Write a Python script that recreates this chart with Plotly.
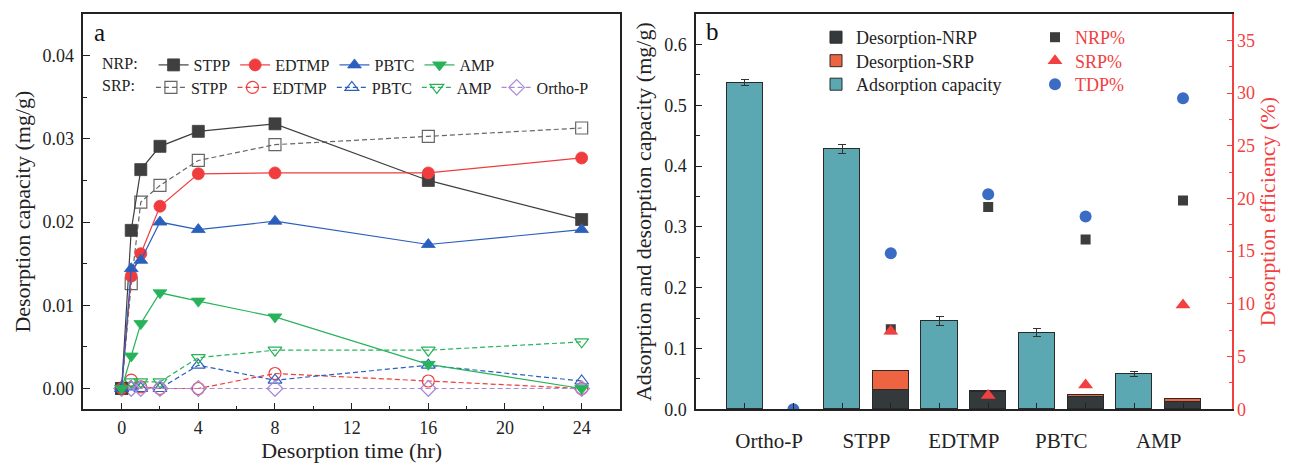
import plotly.graph_objects as go

FONT = "Liberation Serif, Times New Roman, serif"
W, H = 1289, 463

# ---------------- Panel a data ----------------
time_hr = [0, 0.5, 1, 2, 4, 8, 16, 24]
nrp_stpp = [0, 0.0190, 0.0263, 0.0291, 0.0309, 0.0318, 0.0250, 0.0203]
nrp_edtmp = [0, 0.0135, 0.0162, 0.0219, 0.0258, 0.0259, 0.0259, 0.0277]
nrp_pbtc = [0, 0.0144, 0.0154, 0.0200, 0.0191, 0.0201, 0.0173, 0.0191]
nrp_amp = [0, 0.0039, 0.0078, 0.0115, 0.0105, 0.0086, 0.0029, 0.0]
srp_stpp = [0, 0.0126, 0.0224, 0.0244, 0.0274, 0.0293, 0.0303, 0.0313]
srp_edtmp = [0, 0.0010, 0.0002, 0.0, 0.0, 0.0018, 0.0009, 0.0]
srp_pbtc = [0, 0.0002, 0.0, 0.0, 0.0028, 0.0010, 0.0028, 0.0009]
srp_amp = [0, 0.0008, 0.0008, 0.0008, 0.0037, 0.0046, 0.0046, 0.0056]
srp_orthop = [0, 0, 0, 0, 0, 0, 0, 0]
time_ticks = [0, 4, 8, 12, 16, 20, 24]
time_minor = [2, 6, 10, 14, 18, 22]
cap_ticks = [0, 0.01, 0.02, 0.03, 0.04]

# ---------------- Panel b data ----------------
categories = ["Ortho-P", "STPP", "EDTMP", "PBTC", "AMP"]
adsorption = [0.537, 0.428, 0.145, 0.126, 0.058]
adsorption_err = [0.005, 0.008, 0.007, 0.007, 0.004]
desorp_nrp = [None, 0.0318, 0.0277, 0.0201, 0.0115]
desorp_srp = [None, 0.0317, 0.0018, 0.0028, 0.0057]
nrp_pct = [None, 7.6, 19.2, 16.1, 19.8]
srp_pct = [None, 7.4, 1.3, 2.3, 9.9]
tdp_pct = [0, 14.8, 20.4, 18.3, 29.5]
cap2_ticks = [0, 0.1, 0.2, 0.3, 0.4, 0.5, 0.6]
eff_ticks = [0, 5, 10, 15, 20, 25, 30, 35]

# colours
C_STPP = "#3f3f3f"
C_EDTMP = "#f03c3c"
C_PBTC = "#2b5fbd"
C_AMP = "#27b35a"
C_ORTHO = "#a98ad8"
C_TEAL = "#5ba8b2"
C_NRPBAR = "#34393b"
C_SRPBAR = "#ee6440"
C_RED = "#f23f3f"
C_BLUE = "#3a6cc4"
AX = "#222222"

fig = go.Figure()

DASH = "5px,3px"
nrp_series = [("STPP", nrp_stpp, C_STPP, "square"),
              ("EDTMP", nrp_edtmp, C_EDTMP, "circle"),
              ("PBTC", nrp_pbtc, C_PBTC, "triangle-up"),
              ("AMP", nrp_amp, C_AMP, "triangle-down")]
srp_series = [("STPP", srp_stpp, "#666666", "square-open"),
              ("EDTMP", srp_edtmp, C_EDTMP, "circle-open"),
              ("PBTC", srp_pbtc, C_PBTC, "triangle-up-open"),
              ("AMP", srp_amp, C_AMP, "triangle-down-open"),
              ("Ortho-P", srp_orthop, C_ORTHO, "diamond-open")]

for name, vals, col, sym in srp_series:
    fig.add_trace(go.Scatter(
        x=time_hr, y=vals, name=name, mode="lines+markers",
        line=dict(color=col, width=1.2, dash=DASH),
        marker=dict(symbol=sym, size=12, color=col, line=dict(width=1.2, color=col)),
        xaxis="x", yaxis="y", legend="legend2", cliponaxis=False))

for name, vals, col, sym in nrp_series:
    fig.add_trace(go.Scatter(
        x=time_hr, y=vals, name=name, mode="lines+markers",
        line=dict(color=col, width=1.2),
        marker=dict(symbol=sym, size=12, color=col, line=dict(width=0.8, color=col)),
        xaxis="x", yaxis="y", legend="legend", cliponaxis=False))

# ---------------- Panel b traces ----------------
idx = list(range(len(categories)))
ads_x = [i - 0.25 for i in idx]
des_x = [i + 0.25 for i in idx]
BW = 0.37

fig.add_trace(go.Bar(x=des_x, y=desorp_nrp, name="Desorption-NRP", width=BW,
                     marker=dict(color=C_NRPBAR, line=dict(color="#2a2a2a", width=1)),
                     xaxis="x2", yaxis="y2", legend="legend3"))
fig.add_trace(go.Bar(x=des_x, y=desorp_srp, name="Desorption-SRP", width=BW,
                     marker=dict(color=C_SRPBAR, line=dict(color="#2a2a2a", width=1)),
                     xaxis="x2", yaxis="y2", legend="legend4"))
fig.add_trace(go.Bar(x=ads_x, y=adsorption, name="Adsorption capacity", width=BW,
                     marker=dict(color=C_TEAL, line=dict(color="#2a2a2a", width=1)),
                     error_y=dict(type="data", array=adsorption_err, color="#333333",
                                  thickness=1, width=4),
                     xaxis="x2", yaxis="y2", legend="legend5"))

fig.add_trace(go.Scatter(x=des_x, y=nrp_pct, name="NRP%", mode="markers",
                         marker=dict(symbol="square", size=10, color="#3d3d3d"),
                         xaxis="x2", yaxis="y3", legend="legend6"))
fig.add_trace(go.Scatter(x=des_x, y=srp_pct, name="SRP%", mode="markers",
                         marker=dict(symbol="triangle-up", size=13, color=C_RED),
                         xaxis="x2", yaxis="y3", legend="legend7"))
fig.add_trace(go.Scatter(x=des_x, y=tdp_pct, name="TDP%", mode="markers",
                         marker=dict(symbol="circle", size=12, color=C_BLUE),
                         xaxis="x2", yaxis="y3", legend="legend8"))

# ---------------- layout ----------------
y0 = 1 - 409.3 / H
y1 = 1 - 14 / H
tickfont = dict(family=FONT, size=18, color=AX)
titlefont = dict(family=FONT, size=22, color=AX)


def row_legend(xpx, ypx, color):
    return dict(x=xpx / W, y=1 - ypx / H, xanchor="left", yanchor="middle",
                orientation="v", bgcolor="rgba(0,0,0,0)", borderwidth=0,
                font=dict(family=FONT, size=18, color=color))


fig.update_layout(
    width=W, height=H, autosize=False,
    margin=dict(l=0, r=0, t=0, b=0, autoexpand=False),
    paper_bgcolor="white", plot_bgcolor="white",
    font=dict(family=FONT, color=AX),
    barmode="stack", bargap=0,
    xaxis=dict(domain=[83.3 / W, 620 / W], range=[-2, 26], automargin=False,
               tickmode="array", tickvals=time_ticks,
               ticks="inside", ticklen=7, tickwidth=1.2, tickcolor=AX,
               minor=dict(tickmode="array", tickvals=time_minor, ticks="inside",
                          ticklen=4, tickwidth=1.2, tickcolor=AX),
               showline=True, linecolor=AX, linewidth=1.5, mirror=True,
               showgrid=False, zeroline=False, tickfont=tickfont,
               ticklabelstandoff=1,
               title=dict(text="Desorption time (hr)", font=titlefont, standoff=6),
               anchor="y"),
    yaxis=dict(domain=[y0, y1], range=[-0.0025, 0.045], automargin=False,
               tickmode="array", tickvals=cap_ticks, tickformat=".2f",
               ticks="inside", ticklen=7, tickwidth=1.2, tickcolor=AX,
               minor=dict(tickmode="array", tickvals=[0.005, 0.015, 0.025, 0.035],
                          ticks="inside", ticklen=4, tickwidth=1.2, tickcolor=AX),
               showline=True, linecolor=AX, linewidth=1.5, mirror=True,
               showgrid=False, zeroline=False, tickfont=tickfont,
               ticklabelstandoff=4,
               title=dict(text="Desorption capacity (mg/g)", font=titlefont, standoff=6),
               anchor="x"),
    xaxis2=dict(domain=[696 / W, 1231.7 / W], range=[-0.75, 4.75], automargin=False,
                tickmode="array", tickvals=idx, ticktext=categories,
                ticks="", ticklen=0,
                minor=dict(tickmode="array", tickvals=ads_x + des_x, ticks="inside",
                           ticklen=7, tickwidth=1.2, tickcolor=AX),
                showline=True, linecolor=AX, linewidth=1.5, mirror=True,
                showgrid=False, zeroline=False,
                tickfont=dict(family=FONT, size=21, color=AX),
                ticklabelstandoff=12, anchor="y2"),
    yaxis2=dict(domain=[y0, y1], range=[0, 0.65], automargin=False,
                tickmode="array", tickvals=cap2_ticks, tickformat=".1f",
                ticks="inside", ticklen=6, tickwidth=1.2, tickcolor=AX,
                minor=dict(tickmode="array", tickvals=[0.05, 0.15, 0.25, 0.35, 0.45, 0.55],
                           ticks="inside", ticklen=4, tickwidth=1.2, tickcolor=AX),
                showline=True, linecolor=AX, linewidth=1.5, mirror=False,
                showgrid=False, zeroline=False, tickfont=tickfont,
                ticklabelstandoff=4,
                title=dict(text="Adsorption and desorption capacity (mg/g)",
                           font=titlefont, standoff=6),
                anchor="x2"),
    yaxis3=dict(range=[0, 37.5], overlaying="y2", side="right", anchor="x2",
                automargin=False,
                tickmode="array", tickvals=eff_ticks,
                ticks="inside", ticklen=5, tickwidth=1.2, tickcolor=C_RED,
                minor=dict(tickmode="array",
                           tickvals=[2.5, 7.5, 12.5, 17.5, 22.5, 27.5, 32.5, 37.5],
                           ticks="inside", ticklen=3, tickwidth=1.2, tickcolor=C_RED),
                showline=True, linecolor=C_RED, linewidth=1.5,
                showgrid=False, zeroline=False,
                tickfont=dict(family=FONT, size=18, color=C_RED),
                ticklabelstandoff=0,
                title=dict(text="Desorption efficiency (%)",
                           font=dict(family=FONT, size=22, color=C_RED), standoff=6)),
    legend=dict(x=100 / W, y=1 - 65 / H, xanchor="left", yanchor="middle",
                orientation="h", bgcolor="rgba(0,0,0,0)", borderwidth=0,
                font=dict(family=FONT, size=16, color=AX),
                title=dict(text="NRP:\u00a0\u00a0", side="left",
                           font=dict(family=FONT, size=16, color=AX)),
                tracegroupgap=0),
    legend2=dict(x=100 / W, y=1 - 87.5 / H, xanchor="left", yanchor="middle",
                 orientation="h", bgcolor="rgba(0,0,0,0)", borderwidth=0,
                 font=dict(family=FONT, size=16, color=AX),
                 title=dict(text="SRP:\u00a0\u00a0", side="left",
                            font=dict(family=FONT, size=16, color=AX)),
                 tracegroupgap=0),
    legend3=row_legend(816, 37.5, AX),
    legend4=row_legend(816, 61, AX),
    legend5=row_legend(816, 84.5, AX),
    legend6=row_legend(1035, 37.5, C_RED),
    legend7=row_legend(1035, 61, C_RED),
    legend8=row_legend(1035, 84.5, C_RED),
    annotations=[
        dict(text="a", x=99 / W, y=1 - 33 / H, xref="paper", yref="paper",
             xanchor="center", yanchor="middle",
             showarrow=False, font=dict(family=FONT, size=25, color="#111111")),
        dict(text="b", x=712 / W, y=1 - 31 / H, xref="paper", yref="paper",
             xanchor="center", yanchor="middle",
             showarrow=False, font=dict(family=FONT, size=25, color="#111111")),
    ],
)

fig.write_html("out.html",
               config={"displayModeBar": False},
               post_script="document.body.style.margin='0px';"
                           "document.body.style.padding='0px';"
                           "document.body.style.overflow='hidden';")
